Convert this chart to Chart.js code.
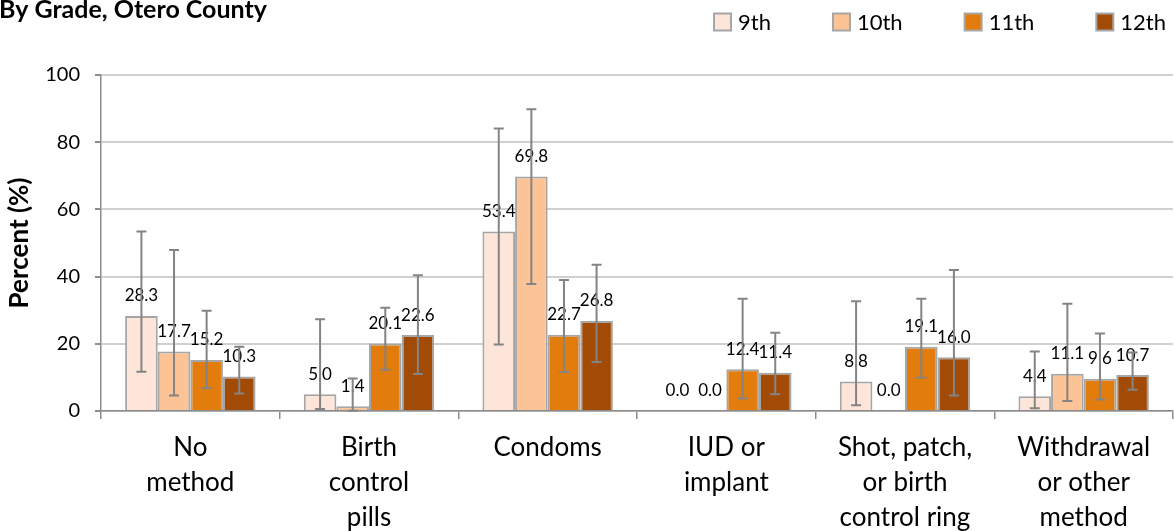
<!DOCTYPE html>
<html>
<head>
<meta charset="utf-8">
<script src="https://cdn.jsdelivr.net/npm/chart.js@4.4.1/dist/chart.umd.min.js"></script>
<style>
  html, body { margin: 0; padding: 0; background: #fff; }
  #wrap { width: 1174px; height: 531px; position: relative; }
</style>
</head>
<body>
<div id="wrap"><canvas id="chart"></canvas></div>
<script>
// Categories (x axis, multi-line labels)
const categories = [
    ['No', 'method'],
    ['Birth', 'control', 'pills'],
    ['Condoms'],
    ['IUD or', 'implant'],
    ['Shot, patch,', 'or birth', 'control ring'],
    ['Withdrawal', 'or other', 'method']
];

const seriesNames = ['9th', '10th', '11th', '12th'];

// Percent values by grade
const grade9  = [28.3, 5.0, 53.4, 0.0, 8.8, 4.4];
const grade10 = [17.7, 1.4, 69.8, 0.0, 0.0, 11.1];
const grade11 = [15.2, 20.1, 22.7, 12.4, 19.1, 9.6];
const grade12 = [10.3, 22.6, 26.8, 11.4, 16.0, 10.7];

// Confidence interval bounds (null = no error bar)
const low9   = [11.7, 0.6, 19.8, null, 1.7, 0.8];
const high9  = [53.4, 27.3, 84.1, null, 32.7, 17.7];
const low10  = [4.6, 0.1, 37.8, null, null, 3.0];
const high10 = [47.9, 9.7, 89.8, null, null, 31.9];
const low11  = [6.8, 12.3, 11.6, 3.7, 9.9, 3.4];
const high11 = [29.8, 30.7, 39.0, 33.4, 33.4, 23.1];
const low12  = [5.2, 11.0, 14.6, 5.0, 4.6, 6.3];
const high12 = [19.1, 40.4, 43.5, 23.3, 42.0, 17.4];

// Y axis ticks
const yTicks = [0, 20, 40, 60, 80, 100];

const colors = ['#FDE6D9', '#FCC396', '#E27C0C', '#A24B07'];
const FONT = 'Lato';

// Error bars drawn from the lower/upper arrays on each dataset
const errorBars = {
    id: 'errorBars',
    afterDatasetsDraw(chart) {
        const ctx = chart.ctx;
        const y = chart.scales.y;
        chart.data.datasets.forEach((ds, i) => {
            const meta = chart.getDatasetMeta(i);
            meta.data.forEach((bar, j) => {
                const lo = ds.lower[j], hi = ds.upper[j];
                if (lo == null || hi == null) return;
                const yLo = y.getPixelForValue(lo);
                const yHi = y.getPixelForValue(hi);
                const cap = 5;
                ctx.save();
                ctx.strokeStyle = '#848484';
                ctx.lineWidth = 2;
                ctx.beginPath();
                ctx.moveTo(bar.x, yLo);
                ctx.lineTo(bar.x, yHi);
                ctx.moveTo(bar.x - cap, yLo);
                ctx.lineTo(bar.x + cap, yLo);
                ctx.moveTo(bar.x - cap, yHi);
                ctx.lineTo(bar.x + cap, yHi);
                ctx.stroke();
                ctx.restore();
            });
        });
    }
};

// Value labels above each bar
const valueLabels = {
    id: 'valueLabels',
    afterDatasetsDraw(chart) {
        const ctx = chart.ctx;
        ctx.save();
        ctx.font = '17px ' + FONT;
        ctx.fillStyle = '#000';
        ctx.textAlign = 'center';
        ctx.textBaseline = 'middle';
        chart.data.datasets.forEach((ds, i) => {
            chart.getDatasetMeta(i).data.forEach((bar, j) => {
                ctx.fillText(ds.data[j].toFixed(1), bar.x, bar.y - 20);
            });
        });
        ctx.restore();
    }
};

// Title fragment (cut at the left edge, as in the original)
const titleText = {
    id: 'titleText',
    afterDraw(chart) {
        const ctx = chart.ctx;
        ctx.save();
        ctx.font = 'bold 25px ' + FONT;
        ctx.fillStyle = '#000';
        ctx.textAlign = 'right';
        ctx.textBaseline = 'alphabetic';
        ctx.fillText('By Grade, Otero County', 267, 18);
        ctx.restore();
    }
};

// Legend in the top right corner
const topLegend = {
    id: 'topLegend',
    afterDraw(chart) {
        const ctx = chart.ctx;
        const box = 17, gap = 7, spacing = 62, cy = 22;
        ctx.save();
        ctx.font = '22px ' + FONT;
        ctx.textBaseline = 'middle';
        ctx.textAlign = 'left';
        const widths = chart.data.datasets.map(ds => box + gap + ctx.measureText(ds.label).width);
        let x = 1166 - widths.reduce((a, b) => a + b, 0) - spacing * (widths.length - 1);
        chart.data.datasets.forEach((ds, i) => {
            ctx.fillStyle = ds.backgroundColor;
            ctx.fillRect(x, cy - box / 2, box, box);
            ctx.strokeStyle = '#A6A6A6';
            ctx.lineWidth = 2;
            ctx.strokeRect(x, cy - box / 2, box, box);
            ctx.fillStyle = '#000';
            ctx.fillText(ds.label, x + box + gap, cy + 1);
            x += widths[i] + spacing;
        });
        ctx.restore();
    }
};

function makeDataset(label, data, lower, upper, color) {
    return {
        label: label,
        data: data,
        lower: lower,
        upper: upper,
        backgroundColor: color,
        borderColor: '#A6A6A6',
        borderWidth: 2,
        categoryPercentage: 0.73,
        barPercentage: 1.0
    };
}

const ctx = document.getElementById('chart').getContext('2d');
new Chart(ctx, {
    type: 'bar',
    data: {
        labels: categories,
        datasets: [
            makeDataset(seriesNames[0], grade9, low9, high9, colors[0]),
            makeDataset(seriesNames[1], grade10, low10, high10, colors[1]),
            makeDataset(seriesNames[2], grade11, low11, high11, colors[2]),
            makeDataset(seriesNames[3], grade12, low12, high12, colors[3])
        ]
    },
    options: {
        responsive: true,
        maintainAspectRatio: false,
        animation: false,
        layout: { padding: { top: 75, right: 1, left: 0, bottom: 0 } },
        plugins: {
            legend: { display: false },
            title: { display: false },
            tooltip: { enabled: false }
        },
        scales: {
            x: {
                grid: {
                    display: true,
                    drawOnChartArea: false,
                    drawTicks: true,
                    tickLength: 8,
                    tickColor: '#8C8C8C',
                    lineWidth: 1.5
                },
                border: { color: '#8C8C8C', width: 1.5 },
                ticks: {
                    color: '#000',
                    font: { family: FONT, size: 26, lineHeight: 1.35 },
                    padding: 11,
                    maxRotation: 0,
                    autoSkip: false
                },
                afterFit: s => { s.height = 120; }
            },
            y: {
                min: 0,
                max: 100,
                afterBuildTicks: s => { s.ticks = yTicks.map(v => ({ value: v })); },
                grid: {
                    color: '#D0D0D0',
                    lineWidth: 2,
                    tickLength: 6,
                    tickColor: '#8C8C8C'
                },
                border: { color: '#8C8C8C', width: 1.5 },
                ticks: {
                    color: '#000',
                    font: { family: FONT, size: 20 },
                    padding: 15
                },
                title: {
                    display: true,
                    text: 'Percent (%)',
                    color: '#000',
                    font: { family: FONT, size: 26, weight: 'bold' },
                    padding: { top: 4, bottom: 0 }
                },
                afterFit: s => { s.width = 101; }
            }
        }
    },
    plugins: [valueLabels, errorBars, titleText, topLegend]
});
</script>
</body>
</html>
